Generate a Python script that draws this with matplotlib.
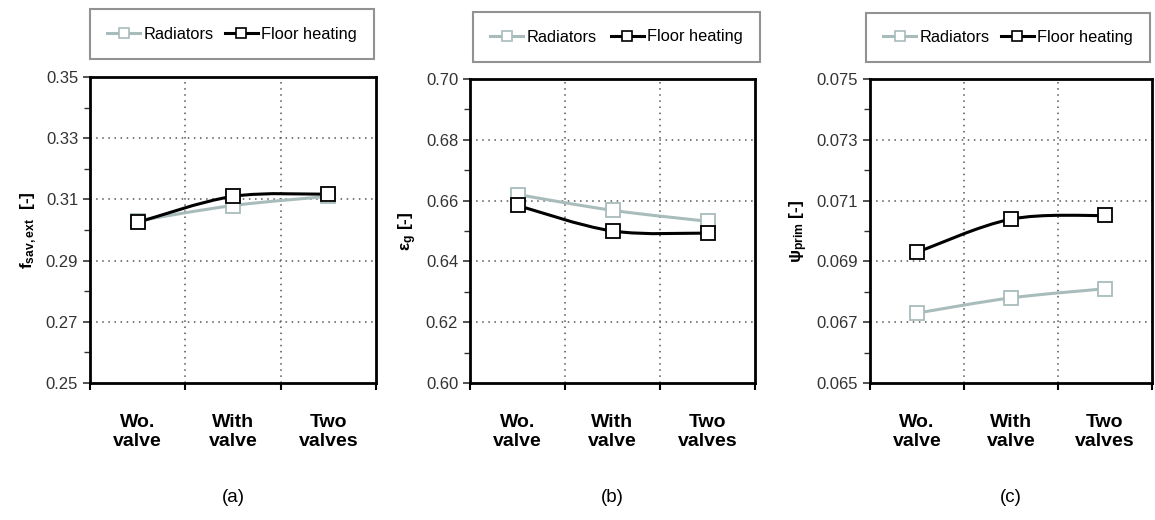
import matplotlib
matplotlib.use("Agg")
import numpy as np
import matplotlib.pyplot as plt
from matplotlib.path import Path
from matplotlib.patches import PathPatch
from matplotlib.ticker import FixedLocator

plt.rcParams['font.family'] = ['Liberation Sans', 'DejaVu Sans']
plt.rcParams['mathtext.fontset'] = 'custom'
plt.rcParams['mathtext.rm'] = 'Liberation Sans'
plt.rcParams['mathtext.it'] = 'Liberation Sans'
plt.rcParams['mathtext.bf'] = 'Liberation Sans:bold'

categories = ["Wo.\nvalve", "With\nvalve", "Two\nvalves"]
series_names = ["Radiators", "Floor heating"]

fsav_radiators = [0.303, 0.308, 0.311]
fsav_floor = [0.3025, 0.311, 0.3117]

eps_radiators = [0.662, 0.6568, 0.6532]
eps_floor = [0.6584, 0.6500, 0.6493]

psi_radiators = [0.0673, 0.0678, 0.0681]
psi_floor = [0.0693, 0.07039, 0.07051]

panel_labels = ["(a)", "(b)", "(c)"]
y_labels = [r"$\mathbf{f_{sav,ext}}$  [-]", r"$\mathbf{ε_g}$ [-]", r"$\mathbf{ψ_{prim}}$ [-]"]
y_ticks = [
    [0.25, 0.27, 0.29, 0.31, 0.33, 0.35],
    [0.60, 0.62, 0.64, 0.66, 0.68, 0.70],
    [0.065, 0.067, 0.069, 0.071, 0.073, 0.075],
]
y_fmt = ["{:.2f}", "{:.2f}", "{:.3f}"]

rad_color = "#a9bcbc"
floor_color = "#000000"

fig = plt.figure(figsize=(11.55, 5.2), dpi=100)

axes_rects = [
    (90 / 1155, 1 - 383 / 520, 286 / 1155, 306 / 520),
    (470 / 1155, 1 - 383 / 520, 285 / 1155, 304 / 520),
    (870 / 1155, 1 - 383 / 520, 282 / 1155, 304 / 520),
]
legend_boxes = [
    (90, 8, 284, 52),
    (473, 12, 287, 50),
    (866, 13, 284, 49),
]


def smooth_path(xs, ys):
    pts = list(zip(xs, ys))
    n = len(pts)
    verts = [pts[0]]
    codes = [Path.MOVETO]
    for i in range(n - 1):
        p0 = pts[i - 1] if i > 0 else pts[i]
        p1 = pts[i]
        p2 = pts[i + 1]
        p3 = pts[i + 2] if i + 2 < n else pts[i + 1]
        c1 = (p1[0] + (p2[0] - p0[0]) / 6, p1[1] + (p2[1] - p0[1]) / 6)
        c2 = (p2[0] - (p3[0] - p1[0]) / 6, p2[1] - (p3[1] - p1[1]) / 6)
        verts += [c1, c2, p2]
        codes += [Path.CURVE4] * 3
    return Path(verts, codes)


data = [(fsav_radiators, fsav_floor), (eps_radiators, eps_floor), (psi_radiators, psi_floor)]
xpos = [0.5, 1.5, 2.5]

for k in range(3):
    ax = fig.add_axes(axes_rects[k])
    rad, flo = data[k]
    handles = []
    for vals, col, name in [(rad, rad_color, series_names[0]), (flo, floor_color, series_names[1])]:
        ax.add_patch(PathPatch(smooth_path(xpos, vals), facecolor="none", edgecolor=col,
                               lw=2.2, zorder=3))
        ax.plot(xpos, vals, ls="none", marker="s", ms=10.5, mfc="white", mec=col, mew=1.3, zorder=4)
        h, = ax.plot([], [], color=col, lw=2.2, marker="s", ms=7.5, mfc="white", mec=col, mew=1.2,
                     label=name)
        handles.append(h)
    ax.set_xlim(0, 3)
    ticks = y_ticks[k]
    lo, hi = ticks[0], ticks[-1]
    ax.set_ylim(lo, hi)
    ax.set_yticks(ticks)
    ax.set_yticklabels([y_fmt[k].format(t) for t in ticks])
    minors = [(a + b) / 2 for a, b in zip(ticks[:-1], ticks[1:])]
    ax.yaxis.set_minor_locator(FixedLocator(minors))
    ax.set_xticks([0, 1, 2, 3])
    ax.set_xticklabels([])
    ax.set_xticks(xpos, minor=True)
    ax.set_xticklabels(categories, minor=True, fontweight="bold", fontsize=14, linespacing=1.2)
    ax.tick_params(axis="x", which="minor", length=0, pad=22)
    ax.tick_params(axis="x", which="major", length=5, width=1.5, direction="out")
    ax.tick_params(axis="y", which="major", length=5, width=1.2, direction="out", labelsize=12,
                   colors="#333333", labelcolor="#333333")
    ax.tick_params(axis="y", which="minor", length=4, width=1.0, direction="out", color="#333333")
    for s in ax.spines.values():
        s.set_linewidth(2.0)
    for t in ticks[1:-1]:
        ax.axhline(t, color="#555555", lw=1.1, ls=(0, (1, 3)), zorder=1)
    for xv in [1, 2]:
        ax.axvline(xv, color="#555555", lw=1.1, ls=(0, (1, 3)), zorder=1)
    ax.set_ylabel(y_labels[k], fontsize=12.5, fontweight="bold", labelpad=5)

    bx, by, bw, bh = legend_boxes[k]
    leg = fig.legend(handles=handles, loc="center",
                     bbox_to_anchor=(bx / 1155, 1 - (by + bh) / 520, bw / 1155, bh / 520),
                     mode="expand", ncol=2, fontsize=11.8, frameon=True, fancybox=False,
                     handlelength=2.0, handletextpad=0.2, columnspacing=0.8, borderaxespad=0,
                     borderpad=1.05)
    leg.get_frame().set_edgecolor("#777777")
    leg.get_frame().set_linewidth(1.5)

    cx = (axes_rects[k][0] + axes_rects[k][2] / 2)
    fig.text(cx, 1 - 497 / 520, panel_labels[k], ha="center", va="center", fontsize=13.5)

fig.savefig("out.png", dpi=100)
